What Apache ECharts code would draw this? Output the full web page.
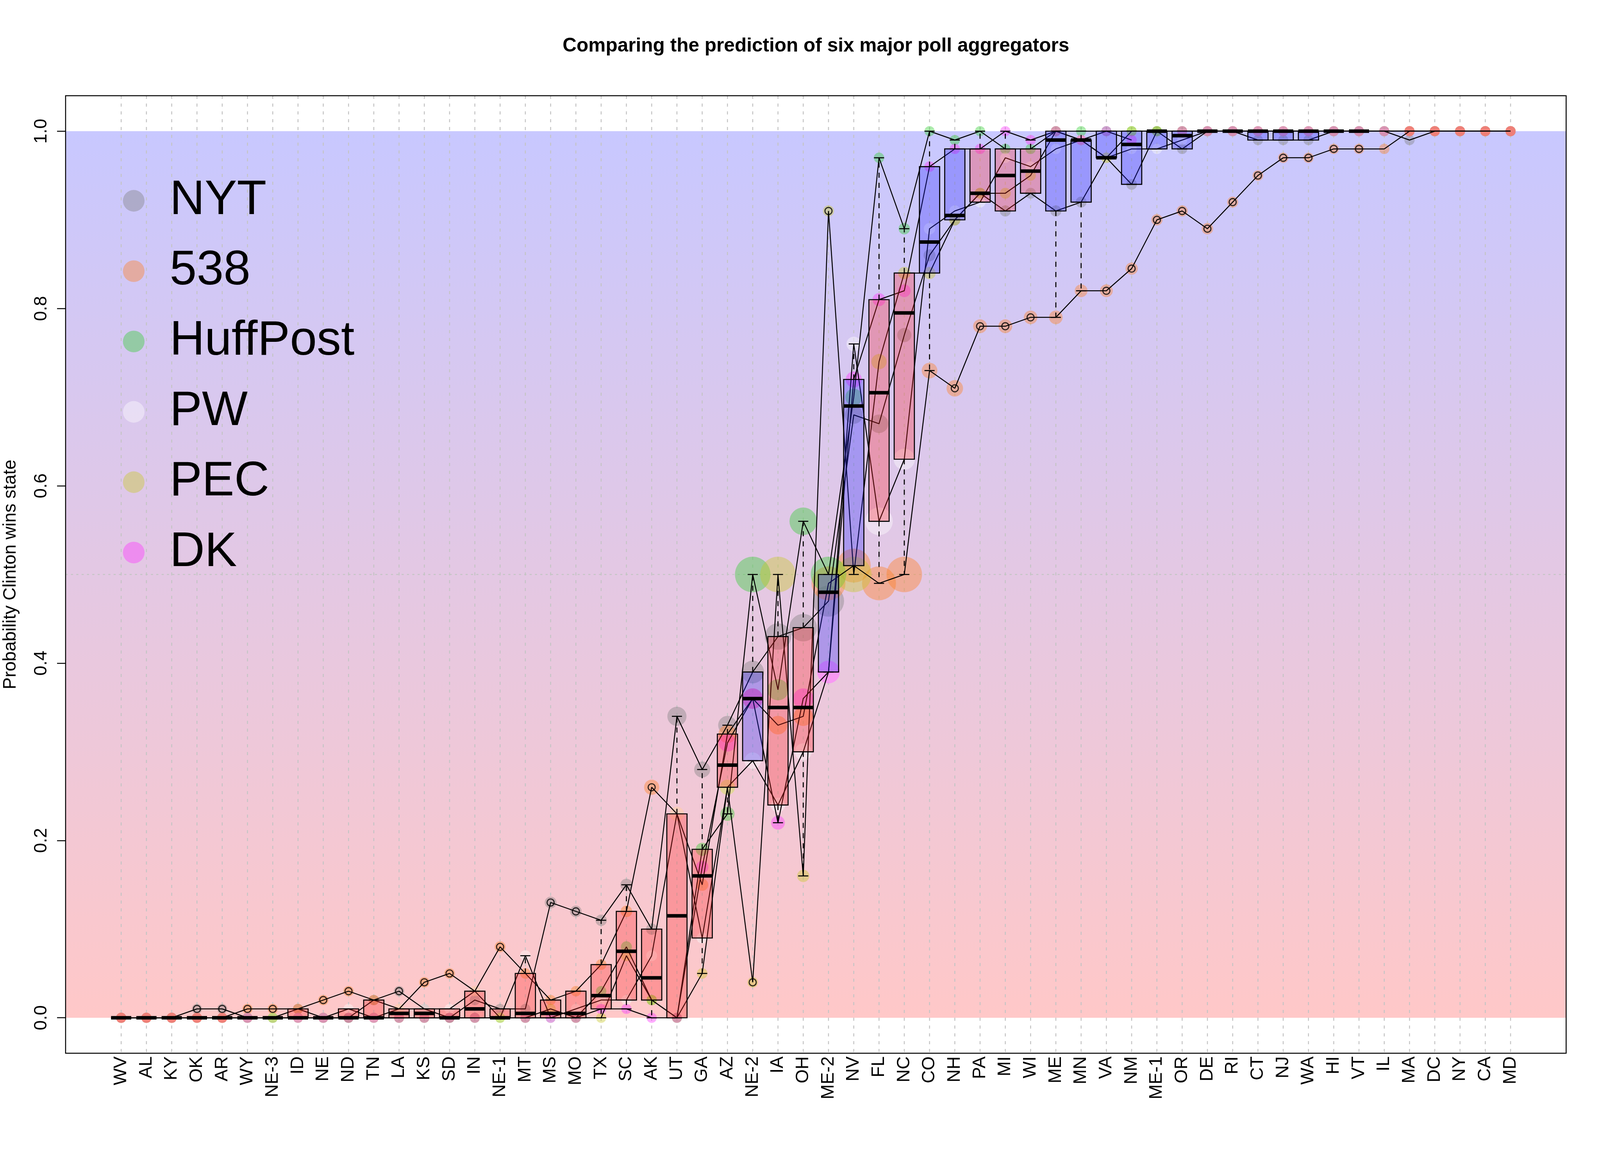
<!DOCTYPE html>
<html><head><meta charset="utf-8">
<script src="https://cdn.jsdelivr.net/npm/echarts@6/dist/echarts.min.js"></script>
<style>html,body{margin:0;padding:0;background:#fff;overflow:hidden}#c{width:100vw;height:100vh}</style>
</head><body><div id="c"></div>
<script>
// ---------------- data ----------------
const states = ['WV','AL','KY','OK','AR','WY','NE-3','ID','NE','ND','TN','LA','KS','SD','IN','NE-1','MT','MS','MO','TX','SC','AK','UT','GA','AZ','NE-2','IA','OH','ME-2','NV','FL','NC','CO','NH','PA','MI','WI','ME','MN','VA','NM','ME-1','OR','DE','RI','CT','NJ','WA','HI','VT','IL','MA','DC','NY','CA','MD'];
const nyt = [0,0,0,.01,.01,0,0,.01,0,0, .02,.03,.01,0,.02,.01,.01,.13,.12,.11, .15,.10,.34,.28,.33,.39,.43,.44,.47,.68, .67,.77,.86,.90,.93,.91,.93,.91,.92,.97, .94,1,.98,1,1,.99,.99,.99,1,1, 1,.99,1,1,1,1];
const fte = [0,0,0,0,0,.01,.01,.01,.02,.03, .02,.01,.04,.05,.03,.08,.05,.02,.03,.06, .12,.26,.23,.15,.32,.36,.33,.34,.49,.51, .49,.50,.73,.71,.78,.78,.79,.79,.82,.82, .845,.90,.91,.89,.92,.95,.97,.97,.98,.98, .98,1,1,1,1,1];
const huff = [0,0,0,0,0,0,0,0,0,0, 0,0,0,0,0,0,0,0,0,.03, .08,.02,0,.19,.23,.50,.37,.56,.50,.70, .97,.89,1,.99,1,.98,.98,1,1,1, 1,1,1,1,1,1,1,1,1,1, 1,1,1,1,1,1];
const pw = [0,0,0,0,0,0,0,0,0,.01, 0,.01,.01,.01,.03,0,.07,0,.01,.02, .02,.07,.23,.09,.26,.29,.24,.30,.39,.76, .56,.63,.89,.91,.92,.97,.96,.98,.99,.97, .98,.98,.99,1,1,1,1,1,1,1, 1,1,1,1,1,1];
const pec = [0,0,0,0,0,0,0,0,0,0, 0,0,0,0,0,0,0,.01,0,0, .07,.02,0,.05,.26,.04,.50,.16,.91,.50, .74,.84,.84,.90,.93,.93,.95,1,.99,.97, 1,1,1,1,1,1,1,1,1,1, 1,1,1,1,1,1];
const dk = [0,0,0,0,0,0,null,0,0,0, 0,0,0,0,0,null,0,0,0,.01, .01,0,0,.17,.31,.36,.22,.36,.39,.72, .81,.82,.96,.98,.98,1,.99,1,.99,1, .99,null,1,1,1,1,1,1,1,1, 1,1,1,1,1,1];
const winner = ['R','R','R','R','R','R','R','R','R','R', 'R','R','R','R','R','R','R','R','R','R', 'R','R','R','R','R','D','R','R','D','D', 'R','R','D','D','R','R','R','D','D','D', 'D','D','D','D','D','D','D','D','D','D', 'D','D','D','D','D','D'];
const boxedCount = 50;             // boxes are drawn for WV ... VT
const yTicks = [0, 0.2, 0.4, 0.6, 0.8, 1.0];
const refLines = [0.5];
const band = [0, 1];
const aggNames = ['NYT','538','HuffPost','PW','PEC','DK'];
const aggValues = [nyt, fte, huff, pw, pec, dk];

// ---------------- layout (designed for 6000 x 3000, scaled to the window) ----------------
const W = window.innerWidth || 6000, H = window.innerHeight || 3000;
const sx = W/6000, sy = H/3000, sf = Math.sqrt(sx*sy);
const FONT = 'Liberation Sans, Arial, Helvetica, sans-serif';
const aggColors = ['rgba(128,128,128,0.5)','rgba(255,127,36,0.5)','rgba(50,205,50,0.5)','rgba(255,255,255,0.5)','rgba(200,200,40,0.5)','rgba(255,50,255,0.5)'];
const certainColor = '#F27C6C';
const redFill = 'rgba(255,40,40,0.3)', blueFill = 'rgba(40,40,255,0.3)';
const gridColor = '#c4c4c4';
const LW = 3.2*sf;
function sizeOf(p){ return (27 + 83*Math.exp(-Math.abs(p-0.5)/0.17))*sf; }

// ---------------- box statistics (R boxplot rules) ----------------
function fivenum(vals){
  const x = vals.slice().sort((a,b)=>a-b); const n = x.length;
  const n4 = Math.floor((n+3)/2)/2;
  return [1, n4, (n+1)/2, n+1-n4, n].map(d => 0.5*(x[Math.floor(d)-1] + x[Math.ceil(d)-1]));
}
const boxData = [], outData = [];
for (let i = 0; i < boxedCount; i++){
  const vals = aggValues.map(a => a[i]).filter(v => v != null);
  const s = fivenum(vals); const iqr = s[3]-s[1];
  const lo = s[1]-1.5*iqr, hi = s[3]+1.5*iqr;
  const inside = vals.filter(v => v >= lo && v <= hi);
  vals.filter(v => v < lo || v > hi).forEach(v => outData.push([i, v]));
  boxData.push([i, Math.min(...inside), s[1], s[2], s[3], Math.max(...inside), winner[i]==='D'?1:0]);
}

const series = [];
series.push({type:'custom', z:1, silent:true, data:[[band[0], band[1]]],
  renderItem(params, api){
    const cs = params.coordSys;
    const yTop = api.coord([0, api.value(1)])[1], yBot = api.coord([0, api.value(0)])[1];
    return {type:'rect', shape:{x:cs.x, y:yTop, width:cs.width, height:yBot-yTop},
      style:{fill:new echarts.graphic.LinearGradient(0,0,0,1,[{offset:0,color:'#C8C8FF'},{offset:1,color:'#FFC8C8'}])}};
  }});
series.push({type:'custom', z:2, silent:true, data:states.map((s,i)=>[i]),
  renderItem(params, api){
    const cs = params.coordSys; const x = api.coord([api.value(0), 0])[0];
    return {type:'line', shape:{x1:x, y1:cs.y, x2:x, y2:cs.y+cs.height}, style:{stroke:gridColor, lineWidth:3*sf, lineDash:[8*sy,12*sy]}};
  }});
series.push({type:'custom', z:2, silent:true, data:refLines.map(v=>[v]),
  renderItem(params, api){
    const cs = params.coordSys; const y = api.coord([0, api.value(0)])[1];
    return {type:'line', shape:{x1:cs.x, y1:y, x2:cs.x+cs.width, y2:y}, style:{stroke:gridColor, lineWidth:3*sf, lineDash:[8*sx,12*sx]}};
  }});
aggNames.forEach((name, k) => {
  series.push({type:'scatter', name, z:3+k, silent:true, symbol:'circle',
    symbolSize: v => sizeOf(v[1]), itemStyle:{color:aggColors[k]},
    data: aggValues[k].map((v,i)=>[i,v]).filter(d => d[1] != null)});
});
series.push({type:'scatter', name:'538 certain', z:9, silent:true, symbol:'circle',
  symbolSize: v => sizeOf(v[1]), itemStyle:{color:certainColor},
  data: fte.map((v,i)=>[i,v]).filter(d => d[1] === 0 || d[1] === 1)});
aggNames.forEach((name, k) => {
  series.push({type:'line', name:name+' line', z:10, silent:true, symbol:'none', showSymbol:false, connectNulls:false,
    lineStyle:{color:'#000', width:3*sf}, data: aggValues[k].map((v,i)=>[i, v])});
});
series.push({type:'custom', z:11, silent:true, data:boxData, encode:{x:0, y:3},
  renderItem(params, api){
    const xv = api.value(0);
    const lo = api.coord([xv, api.value(1)]), q1 = api.coord([xv, api.value(2)]), md = api.coord([xv, api.value(3)]);
    const q3 = api.coord([xv, api.value(4)]), hi = api.coord([xv, api.value(5)]);
    const bw = api.size([0.8, 0])[0], sw = bw*0.5, cx = lo[0];
    const fill = api.value(6) === 1 ? blueFill : redFill;
    const dash = {stroke:'#000', lineWidth:LW, lineDash:[13*sy,13*sy]}, solid = {stroke:'#000', lineWidth:LW};
    return {type:'group', children:[
      {type:'line', shape:{x1:cx,y1:q1[1],x2:cx,y2:lo[1]}, style:dash},
      {type:'line', shape:{x1:cx,y1:q3[1],x2:cx,y2:hi[1]}, style:dash},
      {type:'line', shape:{x1:cx-sw/2,y1:lo[1],x2:cx+sw/2,y2:lo[1]}, style:solid},
      {type:'line', shape:{x1:cx-sw/2,y1:hi[1],x2:cx+sw/2,y2:hi[1]}, style:solid},
      {type:'rect', shape:{x:cx-bw/2, y:q3[1], width:bw, height:q1[1]-q3[1]}, style:{fill, stroke:'#000', lineWidth:LW}},
      {type:'line', shape:{x1:cx-bw/2,y1:md[1],x2:cx+bw/2,y2:md[1]}, style:{stroke:'#000', lineWidth:9*sy}}
    ]};
  }});
series.push({type:'scatter', name:'outliers', z:12, silent:true, symbol:'circle', symbolSize:22*sf,
  itemStyle:{color:'rgba(0,0,0,0)', borderColor:'#000', borderWidth:3.5*sf}, data:outData});
series.push({type:'custom', z:13, silent:true, data:[[0]],
  renderItem(params){
    const cs = params.coordSys;
    return {type:'rect', shape:{x:cs.x, y:cs.y, width:cs.width, height:cs.height}, style:{fill:'none', stroke:'#000', lineWidth:3*sf}};
  }});

const titleFs = 60*sf;
const legFs = 150*sf, legIcon = 67*sf;
const axFs = 46*sy;                 // rotated axis texts: their length runs vertically
const option = {
  animation:false,
  backgroundColor:'#fff',
  title:{text:'Comparing the prediction of six major poll aggregators', left:3060*sx - 26.17*titleFs/2, top:118*sy - titleFs/2, padding:0,
    textStyle:{fontFamily:FONT, fontSize:titleFs, fontWeight:'bold', color:'#000'}},
  legend:{data:aggNames, orient:'vertical', left:461*sx, top:514*sy - legFs/2, padding:0, itemGap:180*sy - legFs, icon:'circle',
    itemWidth:legIcon, itemHeight:legIcon, selectedMode:false, z:20,
    textStyle:{fontFamily:FONT, fontSize:legFs, lineHeight:legFs, color:'#000', padding:[0,0,0,87*sx]}},
  grid:{left:246*sx, right:127*sx, top:245*sy, bottom:304*sy, containLabel:false, outerBoundsMode:'none'},
  xAxis:{type:'value', min:-2.2, max:57.2, position:'bottom',
    axisLine:{show:false, onZero:false}, axisTick:{show:false}, splitLine:{show:false},
    axisLabel:{customValues:states.map((s,i)=>i), formatter:v=>states[Math.round(v)] || '', rotate:90, margin:8*sy,
      fontFamily:FONT, fontSize:axFs, color:'#000'}},
  yAxis:{type:'value', min:-0.04, max:1.04, position:'left',
    name:'Probability Clinton wins state', nameLocation:'middle', nameGap:Math.max(4, 206*sx - axFs/2), nameRotate:90,
    nameTextStyle:{fontFamily:FONT, fontSize:axFs, color:'#000'},
    axisLine:{show:false, onZero:false}, splitLine:{show:false},
    axisTick:{show:true, customValues:yTicks, length:32*sx, lineStyle:{color:'#000', width:3*sf}},
    axisLabel:{customValues:yTicks, formatter:v=>Number(v).toFixed(1), rotate:90, margin:Math.max(4, 90*sx - axFs/2),
      fontFamily:FONT, fontSize:axFs, color:'#000'}},
  series
};
const chart = echarts.init(document.getElementById('c'));
chart.setOption(option);
</script></body></html>
